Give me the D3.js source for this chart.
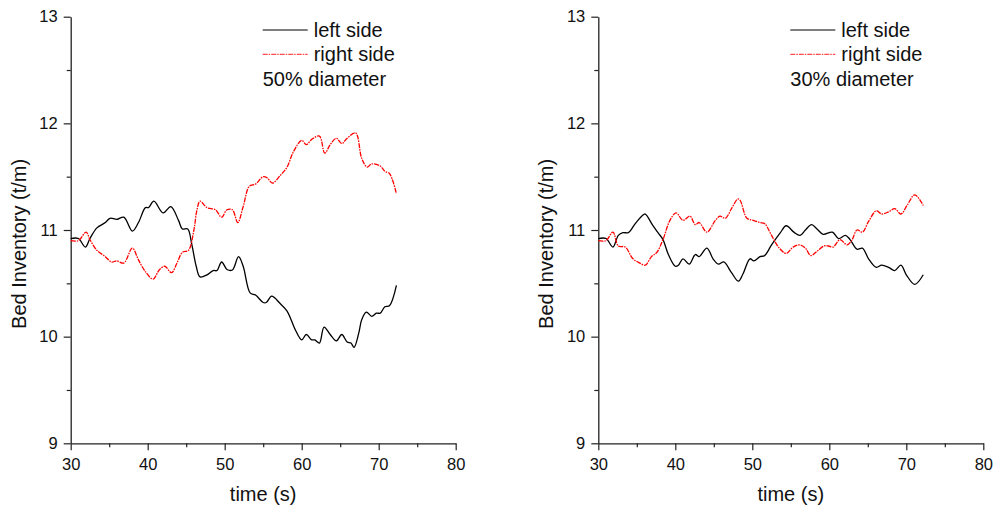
<!DOCTYPE html>
<html>
<head>
<meta charset="utf-8">
<script src="https://cdn.jsdelivr.net/npm/d3@7"></script>
<style>
  body { margin: 0; background: #fff; }
  svg { display: block; font-family: "Liberation Sans", Arial, sans-serif; }
</style>
</head>
<body>
<div id="chart"></div>
<script>
// 50% diameter, left side (black) [time, value]
const left50 = [
  [30,10.92],[31,10.92],[31.9,10.84],[32.5,10.92],[33.4,11.02],[34.5,11.07],[35.1,11.11],[36,11.10],
  [36.9,11.12],[38,10.99],[38.8,11.07],[39.7,11.21],[40.1,11.21],[40.8,11.27],[42,11.16],[43,11.22],
  [44,11.09],[44.5,11.01],[45.2,11.01],[45.7,10.875],[46.3,10.66],[46.8,10.56],[47.7,10.58],[48.5,10.62],
  [49,10.62],[49.6,10.70],[50.3,10.63],[51,10.625],[51.8,10.75],[52.4,10.66],[53.3,10.41],[54,10.39],
  [55,10.32],[55.4,10.32],[56.1,10.38],[57.2,10.31],[58.1,10.24],[59.2,10.06],[60,9.97],[60.6,10.02],
  [61.3,9.97],[61.7,9.97],[62.3,9.94],[62.9,10.09],[63.7,10.02],[64.5,9.96],[65.2,10.02],[65.9,9.95],
  [66.4,9.94],[66.8,9.90],[67.4,10.03],[67.8,10.16],[68.4,10.23],[69.1,10.19],[69.7,10.22],[70.2,10.22],
  [70.8,10.28],[71.4,10.29],[72.3,10.48]
];
// 50% diameter, right side (red)
const right50 = [
  [30,10.90],[31,10.90],[32,10.98],[32.5,10.91],[33.4,10.81],[34.5,10.75],[35.3,10.70],[36,10.71],
  [36.9,10.69],[38,10.83],[38.8,10.72],[39.7,10.61],[40.7,10.54],[41.5,10.625],[42.2,10.66],[43.1,10.60],
  [43.8,10.69],[44.5,10.79],[45.3,10.81],[46,11.00],[46.4,11.19],[46.8,11.27],[47.7,11.21],[48.8,11.19],
  [49.6,11.12],[50.3,11.19],[51,11.19],[51.7,11.07],[52.4,11.22],[53.2,11.41],[54,11.43],[55,11.50],
  [55.5,11.49],[56.2,11.44],[57.2,11.51],[58.1,11.59],[58.9,11.73],[60,11.84],[60.6,11.80],[61.3,11.85],
  [62.3,11.88],[63,11.72],[63.7,11.80],[64.5,11.86],[65.2,11.81],[65.9,11.86],[67,11.91],[67.8,11.67],
  [68.5,11.59],[69.1,11.62],[70.2,11.60],[70.8,11.55],[71.4,11.53],[72.3,11.34]
];
// 30% diameter, left side (black)
const left30 = [
  [30,10.92],[31,10.92],[31.9,10.84],[32.6,10.95],[33.2,10.975],[33.9,10.975],[34.8,11.06],[35.8,11.14],
  [36.1,11.15],[37.1,11.04],[37.8,10.97],[38.4,10.91],[39.1,10.77],[40,10.66],[40.4,10.67],[41,10.73],
  [41.8,10.68],[42.6,10.77],[43.1,10.75],[44.1,10.83],[44.9,10.73],[45.6,10.68],[46.3,10.70],[47.3,10.60],
  [48.2,10.52],[48.8,10.59],[49.7,10.73],[50.2,10.71],[51,10.75],[51.6,10.76],[52.5,10.86],[53.6,10.97],
  [54.4,11.04],[55.4,10.98],[56.2,10.95],[56.9,11.00],[57.7,11.05],[58.4,11.01],[59.2,10.96],[60.4,10.98],
  [61.2,10.92],[62.1,10.95],[62.7,10.91],[63.6,10.82],[64.3,10.83],[65.1,10.73],[66.1,10.65],[66.8,10.67],
  [67.7,10.65],[68.5,10.62],[69.3,10.67],[70,10.58],[71.1,10.49],[72.2,10.58]
];
// 30% diameter, right side (red)
const right30 = [
  [30,10.90],[31,10.90],[31.9,10.98],[32.6,10.85],[33.5,10.84],[34.5,10.73],[35.4,10.69],[36.1,10.67],
  [36.9,10.75],[37.6,10.79],[38.4,10.91],[39.3,11.09],[40.1,11.16],[41,11.09],[41.9,11.13],[42.6,11.05],
  [43.1,11.07],[44.1,10.98],[45.2,11.09],[45.8,11.13],[46.5,11.11],[47.3,11.20],[48.1,11.29],[48.4,11.28],
  [49.3,11.11],[50.1,11.09],[51,11.07],[51.6,11.06],[52.5,10.95],[53.4,10.84],[54.4,10.78],[55.3,10.84],
  [56.2,10.86],[56.9,10.83],[57.6,10.76],[58.4,10.80],[59.3,10.85],[59.9,10.85],[60.5,10.84],[61.4,10.91],
  [62.3,10.86],[62.9,10.90],[63.6,11.00],[64.3,10.98],[65.1,11.08],[66.1,11.18],[66.8,11.15],[67.7,11.17],
  [68.5,11.20],[69.3,11.15],[70.1,11.23],[71.1,11.33],[72.2,11.23]
];

const xMajor = [30, 40, 50, 60, 70, 80];
const xMinor = [35, 45, 55, 65, 75];
const yMajor = [9, 10, 11, 12, 13];
const yMinor = [9.5, 10.5, 11.5, 12.5];
const seriesNames = ['left side', 'right side'];

const panels = [
  { left: 70.7, label: '50% diameter', series: [left50, right50] },
  { left: 598.3, label: '30% diameter', series: [left30, right30] }
];

const W = 993, H = 506;
const plotW = 385, plotTop = 16.7, plotBottom = 443.3;

const svg = d3.select('#chart').append('svg')
  .attr('width', W).attr('height', H);

const axisColor = '#222';
const styles = [
  { stroke: '#000', dash: null, width: 1.3 },
  { stroke: '#ff0000', dash: '5,1,1.5,1', width: 1.3 }
];

panels.forEach(p => {
  const g = svg.append('g').attr('transform', `translate(${p.left},0)`);

  const x = d3.scaleLinear().domain([30, 80]).range([0, plotW]);
  const y = d3.scaleLinear().domain([9, 13]).range([plotBottom, plotTop]);

  // 次刻度
  g.append('g')
    .attr('transform', `translate(0,${plotBottom})`)
    .call(d3.axisBottom(x).tickValues(xMinor).tickSize(4).tickSizeOuter(0).tickFormat(''))
    .call(s => s.select('.domain').remove());
  g.append('g')
    .call(d3.axisLeft(y).tickValues(yMinor).tickSize(4).tickSizeOuter(0).tickFormat(''))
    .call(s => s.select('.domain').remove());

  // 主刻度與標籤
  g.append('g')
    .attr('transform', `translate(0,${plotBottom})`)
    .call(d3.axisBottom(x).tickValues(xMajor).tickSize(7).tickSizeOuter(0).tickPadding(8).tickFormat(d3.format('d')));
  g.append('g')
    .call(d3.axisLeft(y).tickValues(yMajor).tickSize(7).tickSizeOuter(0).tickPadding(6).tickFormat(d3.format('d')));

  g.selectAll('.tick line').attr('stroke', axisColor).attr('stroke-width', 1.2);
  g.selectAll('.domain').attr('stroke', axisColor).attr('stroke-width', 1.3);
  g.selectAll('.tick text')
    .attr('fill', '#111')
    .style('font-size', '16.5px')
    .style('font-family', '"Liberation Sans", Arial, sans-serif');

  // 軸標題
  g.append('text')
    .attr('x', plotW / 2).attr('y', 501)
    .attr('text-anchor', 'middle')
    .style('font-size', '20px')
    .attr('fill', '#111')
    .text('time (s)');
  g.append('text')
    .attr('transform', `translate(-45,${y(10.87)}) rotate(-90)`)
    .attr('text-anchor', 'middle')
    .style('font-size', '20px')
    .attr('fill', '#111')
    .text('Bed Inventory (t/m)');

  // 曲線
  const line = d3.line()
    .x(d => x(d[0]))
    .y(d => y(d[1]))
    .curve(d3.curveCatmullRom.alpha(0.5));

  p.series.forEach((data, i) => {
    g.append('path')
      .datum(data)
      .attr('fill', 'none')
      .attr('stroke', styles[i].stroke)
      .attr('stroke-width', styles[i].width)
      .attr('stroke-dasharray', styles[i].dash)
      .attr('d', line);
  });

  // 圖例
  const lg = g.append('g').attr('transform', 'translate(192,0)');
  seriesNames.forEach((name, i) => {
    const yy = 30 + i * 24.3;
    lg.append('line')
      .attr('x1', 0).attr('x2', 45).attr('y1', yy).attr('y2', yy)
      .attr('stroke', styles[i].stroke)
      .attr('stroke-opacity', i === 1 ? 0.7 : 1)
      .attr('stroke-width', 1.2)
      .attr('stroke-dasharray', styles[i].dash);
    lg.append('text')
      .attr('x', 51).attr('y', yy + 6.5)
      .style('font-size', '20px')
      .attr('fill', '#111')
      .text(name);
  });
  lg.append('text')
    .attr('x', 0).attr('y', 86)
    .style('font-size', '20px')
    .attr('fill', '#111')
    .text(p.label);
});
</script>
</body>
</html>
